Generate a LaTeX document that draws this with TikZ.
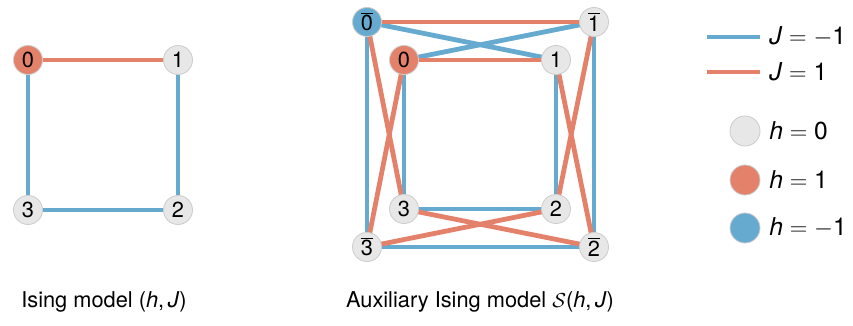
\documentclass[tikz,border=0pt]{standalone}
\usepackage{fontspec}
\setmainfont{TeX Gyre Heros}
\usetikzlibrary{backgrounds}
\definecolor{jneg}{RGB}{103,170,208}
\definecolor{jpos}{RGB}{228,129,106}
\definecolor{hzero}{RGB}{231,231,231}
\definecolor{rim}{RGB}{205,205,205}
\newcommand{\bsp}[1]{$\overline{\hbox{#1}}$}
\begin{document}
\begin{tikzpicture}[x=0.025cm, y=-0.025cm,
		spin/.style={circle, draw=rim, line width=0.6pt, fill=hzero, minimum size=0.725cm, inner sep=0pt, font=\fontsize{15.5}{17}\selectfont},
		spinpos/.style={spin, fill=jpos},
		spinneg/.style={spin, fill=jneg},
		ferro/.style={line width=3.4pt, draw=jpos},
		anti/.style={line width=3.4pt, draw=jneg},
		legtext/.style={anchor=west, inner sep=0pt, font=\fontsize{17.5}{20}\selectfont},
		caption/.style={font=\fontsize{15.5}{18}\selectfont}
		]
		\useasboundingbox (0,0) rectangle (853,326);
		
		% Ising model
		\node[spinpos] (a0) at (28,60) {0};
		\node[spin] (a1) at (178,60) {1};
		\node[spin] (a2) at (178,210) {2};
		\node[spin] (a3) at (28,210) {3};
		
		% Auxiliary model
		\node[spinneg] (b0b) at (367,22) {\bsp{0}};
		\node[spin] (b1b) at (594,22) {\bsp{1}};
		\node[spin] (b2b) at (594,247) {\bsp{2}};
		\node[spin] (b3b) at (367,247) {\bsp{3}};
		\node[spinpos] (b0) at (404,60) {0};
		\node[spin] (b1) at (556,60) {1};
		\node[spin] (b2) at (556,209) {2};
		\node[spin] (b3) at (404,209) {3};
		
		% Edges
		\begin{scope}[on background layer]
			\draw[ferro] (a0.center) -- (a1.center);
			\draw[anti] (a1.center) -- (a2.center) -- (a3.center) -- (a0.center);
			
			\draw[anti] (b0b.center) -- (b3b.center) -- (b2b.center) -- (b1b.center);
			\draw[anti] (b0.center) -- (b3.center) -- (b2.center) -- (b1.center);
			\draw[anti] (b0b.center) -- (b1.center);
			\draw[anti] (b0.center) -- (b1b.center);
			\draw[ferro] (b0b.center) -- (b1b.center);
			\draw[ferro] (b0.center) -- (b1.center);
			\draw[ferro] (b0b.center) -- (b3.center);
			\draw[ferro] (b0.center) -- (b3b.center);
			\draw[ferro] (b1b.center) -- (b2.center);
			\draw[ferro] (b1.center) -- (b2b.center);
			\draw[ferro] (b3.center) -- (b2b.center);
			\draw[ferro] (b2.center) -- (b3b.center);
		\end{scope}
		
		% Legend
		\coordinate (ln1) at (707,37);
		\coordinate (ln2) at (760,37);
		\coordinate (lp1) at (707,72);
		\coordinate (lp2) at (760,72);
		\draw[anti] (ln1) -- (ln2);
		\draw[ferro] (lp1) -- (lp2);
		\node[legtext] (tn) at (769,37) {\textit{J} $=$ $-$1};
		\node[legtext] (tp) at (769,72) {\textit{J} $=$ 1};
		\node[spin, minimum size=0.75cm] (c0) at (745,131) {};
		\node[spinpos, minimum size=0.75cm] (cp) at (745,180) {};
		\node[spinneg, minimum size=0.75cm] (cn) at (745,228) {};
		\node[legtext] (t0) at (769,131) {\textit{h} $=$ 0};
		\node[legtext] (tp1) at (769,180) {\textit{h} $=$ 1};
		\node[legtext] (tn1) at (769,228) {\textit{h} $=$ $-$1};
		
		% Labels
		\node[caption] (capa) at (104,302) {Ising model (\textit{h},\,\textit{J})};
		\node[caption] (capb) at (480,302) {Auxiliary Ising model $\mathcal{S}$(\textit{h},\,\textit{J})};
		
	\end{tikzpicture}
\end{document}
